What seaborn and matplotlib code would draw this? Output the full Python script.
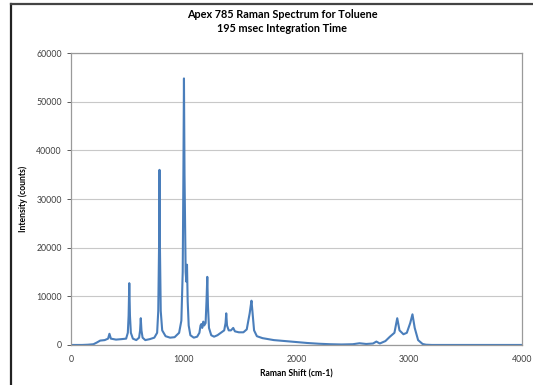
import pandas as pd
import matplotlib.pyplot as plt
import seaborn as sns
from matplotlib.lines import Line2D

# spectrum (Raman shift in cm-1, intensity in counts)
shift = [0, 100, 150, 200, 230, 260, 300, 330, 342, 355, 400, 450, 490,
         505, 512, 518, 524, 532, 550, 580, 605, 614, 620, 626, 636, 660,
         700, 740, 765, 775, 782, 786, 790, 797, 810, 840, 880, 920, 960,
         980, 992, 998, 1003, 1008, 1018, 1024, 1030, 1036, 1045, 1060,
         1090, 1120, 1140, 1150, 1157, 1165, 1175, 1182, 1195, 1203, 1210,
         1216, 1225, 1245, 1270, 1300, 1330, 1360, 1372, 1378, 1385, 1400,
         1420, 1440, 1455, 1490, 1530, 1560, 1578, 1586, 1595, 1602, 1610,
         1625, 1650, 1700, 1750, 1800, 1900, 2000, 2100, 2200, 2300, 2400,
         2500, 2560, 2620, 2680, 2710, 2740, 2790, 2830, 2870, 2895, 2915,
         2950, 2980, 3010, 3030, 3050, 3080, 3120, 3150, 3200, 3600, 4000]
counts = [0, 0, 50, 150, 500, 900, 1000, 1300, 2300, 1300, 1100, 1200, 1300,
          2500, 6000, 12700, 6000, 2500, 1300, 1000, 1500, 3000, 5500, 3000, 1500, 1000,
          1200, 1500, 2500, 7000, 20000, 36000, 20000, 7000, 3000, 1800, 1500, 1600, 2500,
          5000, 15000, 35000, 54800, 35000, 15000, 13000, 16500, 9000, 4000, 2000,
          1500, 1700, 2500, 4000, 4300, 3500, 4800, 4000, 4500, 9000, 14000,
          8000, 3500, 2000, 1700, 2000, 2500, 3000, 4500, 6500, 4000, 3000,
          3000, 3500, 2800, 2600, 2600, 3200, 5500, 6500, 8000, 9100, 7000,
          3000, 1800, 1400, 1200, 1000, 800, 600, 400, 250, 150, 100,
          150, 350, 200, 300, 700, 300, 800, 1700, 2500, 5500, 3000,
          2200, 2500, 4500, 6300, 3500, 1000, 200, 50, 0, 0, 0]

x_ticks = [0, 1000, 2000, 3000, 4000]
y_ticks = [0, 10000, 20000, 30000, 40000, 50000, 60000]

df = pd.DataFrame({"shift": shift, "counts": counts})

plt.rcParams['font.family'] = ['Lato', 'DejaVu Sans']
fig = plt.figure(figsize=(5.33, 3.85), dpi=100)
ax = fig.add_axes([0.133, 0.104, 0.846, 0.758])

sns.lineplot(data=df, x="shift", y="counts", ax=ax, color="#4a7ebb",
             linewidth=1.5, estimator=None)

ax.set_xlim(0, 4000)
ax.set_ylim(0, 60000)
ax.set_xticks(x_ticks)
ax.set_yticks(y_ticks)
ax.tick_params(labelsize=6.3, colors="#404040", length=3, width=0.6)
ax.tick_params(axis="x", length=0, pad=7)
ax.grid(axis="y", color="#c8c8c8", linewidth=0.8)
ax.set_axisbelow(True)
for s in ax.spines.values():
    s.set_color("#9a9a9a")
    s.set_linewidth(0.9)

ax.set_xlabel("Raman Shift (cm-1)", fontsize=6.2, fontweight="bold", labelpad=4)
ax.set_ylabel("Intensity (counts)", fontsize=6.2, fontweight="bold", labelpad=6)

fig.text(0.53, 0.963, "Apex 785 Raman Spectrum for Toluene", ha="center",
         va="center", fontsize=7.8, fontweight="bold")
fig.text(0.53, 0.925, "195 msec Integration Time", ha="center",
         va="center", fontsize=7.8, fontweight="bold")

# chart frame (left and top edges visible)
fig.add_artist(Line2D([0.021, 0.021], [0, 0.99], color="#222222", lw=1.6))
fig.add_artist(Line2D([0.021, 1.0], [0.99, 0.99], color="#444444", lw=1.6))

fig.savefig("out.png", dpi=100)
